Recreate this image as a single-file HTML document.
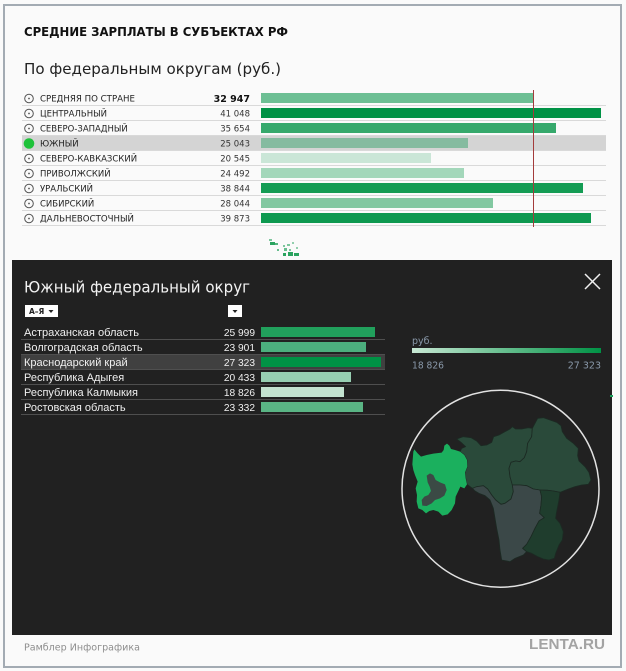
<!DOCTYPE html>
<html><head><meta charset="utf-8"><style>
html,body{margin:0;padding:0;background:#fafafa;}
svg{display:block;}
.dj{font-family:"DejaVu Sans","Liberation Sans",sans-serif;}
.lb{font-family:"Liberation Sans","DejaVu Sans",sans-serif;}
</style></head><body>
<svg width="626" height="671" viewBox="0 0 626 671" xmlns="http://www.w3.org/2000/svg">
<rect x="0" y="0" width="626" height="671" fill="#fafafa"/>
<rect x="4" y="5" width="617" height="662" fill="none" stroke="#a3abb3" stroke-width="2"/>

<text class="dj" x="24" y="36" font-size="12" font-weight="bold" fill="#111" textLength="264" lengthAdjust="spacingAndGlyphs">СРЕДНИЕ ЗАРПЛАТЫ В СУБЪЕКТАХ РФ</text>
<text class="dj" x="24" y="74" font-size="15" fill="#222" textLength="257" lengthAdjust="spacingAndGlyphs">По федеральным округам (руб.)</text>

<!-- highlight row -->
<rect x="22" y="136" width="584" height="14" fill="#d4d4d4"/>
<!-- separators -->
<g fill="#d9d9d9">
<rect x="22" y="105" width="584" height="1"/>
<rect x="22" y="120" width="584" height="1"/>
<rect x="22" y="135" width="584" height="1"/>
<rect x="22" y="150" width="584" height="1"/>
<rect x="22" y="165" width="584" height="1"/>
<rect x="22" y="180" width="584" height="1"/>
<rect x="22" y="195" width="584" height="1"/>
<rect x="22" y="210" width="584" height="1"/>
<rect x="22" y="225" width="584" height="1"/>
</g>
<!-- bars -->
<rect x="261" y="93" width="272" height="10" fill="#6dbf94"/>
<rect x="261" y="108" width="340" height="10" fill="#009245"/>
<rect x="261" y="123" width="295" height="10" fill="#36a96c"/>
<rect x="261" y="138" width="207" height="10" fill="#85bba0"/>
<rect x="261" y="153" width="170" height="10" fill="#cae6d7"/>
<rect x="261" y="168" width="203" height="10" fill="#a3d7ba"/>
<rect x="261" y="183" width="322" height="10" fill="#149c54"/>
<rect x="261" y="198" width="232" height="10" fill="#82c8a1"/>
<rect x="261" y="213" width="330" height="10" fill="#0e9950"/>
<rect x="533" y="90" width="1" height="137" fill="#a33b3b"/>

<!-- icons -->
<g fill="none" stroke="#555" stroke-width="1">
<circle cx="29" cy="98.5" r="4.3"/>
<circle cx="29" cy="113.5" r="4.3"/>
<circle cx="29" cy="128.5" r="4.3"/>
<circle cx="29" cy="158.5" r="4.3"/>
<circle cx="29" cy="173.5" r="4.3"/>
<circle cx="29" cy="188.5" r="4.3"/>
<circle cx="29" cy="203.5" r="4.3"/>
<circle cx="29" cy="218.5" r="4.3"/>
</g>
<g fill="#555">
<circle cx="29" cy="98.5" r="0.9"/>
<circle cx="29" cy="113.5" r="0.9"/>
<circle cx="29" cy="128.5" r="0.9"/>
<circle cx="29" cy="158.5" r="0.9"/>
<circle cx="29" cy="173.5" r="0.9"/>
<circle cx="29" cy="188.5" r="0.9"/>
<circle cx="29" cy="203.5" r="0.9"/>
<circle cx="29" cy="218.5" r="0.9"/>
</g>
<circle cx="29" cy="143.5" r="5.3" fill="#1ec23a"/>

<g class="dj" font-size="8.5" fill="#222">
<text x="40" y="101.5" textLength="95" lengthAdjust="spacingAndGlyphs">СРЕДНЯЯ ПО СТРАНЕ</text>
<text x="40" y="116.5">ЦЕНТРАЛЬНЫЙ</text>
<text x="40" y="131.5">СЕВЕРО-ЗАПАДНЫЙ</text>
<text x="40" y="146.5">ЮЖНЫЙ</text>
<text x="40" y="161.5">СЕВЕРО-КАВКАЗСКИЙ</text>
<text x="40" y="176.5">ПРИВОЛЖСКИЙ</text>
<text x="40" y="191.5">УРАЛЬСКИЙ</text>
<text x="40" y="206.5">СИБИРСКИЙ</text>
<text x="40" y="221.5" textLength="94" lengthAdjust="spacingAndGlyphs">ДАЛЬНЕВОСТОЧНЫЙ</text>
</g>
<text class="dj" x="250" y="102" font-size="9.5" font-weight="bold" fill="#111" text-anchor="end">32 947</text>
<g class="dj" font-size="8.5" fill="#333" text-anchor="end">
<text x="250" y="116.5">41 048</text>
<text x="250" y="131.5">35 654</text>
<text x="250" y="146.5">25 043</text>
<text x="250" y="161.5">20 545</text>
<text x="250" y="176.5">24 492</text>
<text x="250" y="191.5">38 844</text>
<text x="250" y="206.5">28 044</text>
<text x="250" y="221.5">39 873</text>
</g>

<!-- small map blip -->
<g fill="#2aa35f">
<rect x="269" y="239" width="3" height="2" opacity="0.6"/>
<rect x="270" y="242" width="5" height="3"/>
<rect x="275" y="243" width="3" height="2" opacity="0.8"/>
<rect x="277" y="249" width="2" height="2" opacity="0.7"/>
<rect x="283" y="245" width="2" height="2" opacity="0.6"/>
<rect x="287" y="244" width="3" height="2" opacity="0.6"/>
<rect x="292" y="242" width="2" height="2" opacity="0.5"/>
<rect x="284" y="248" width="3" height="3" opacity="0.7"/>
<rect x="289" y="249" width="2" height="2" opacity="0.6"/>
<rect x="283" y="253" width="3" height="3"/>
<rect x="288" y="252" width="5" height="4"/>
<rect x="294" y="253" width="5" height="3"/>
<rect x="296" y="247" width="2" height="2" opacity="0.5"/>
</g>

<!-- dark panel -->
<rect x="12" y="260" width="600" height="375" fill="#212121"/>
<rect x="610" y="395" width="3" height="2" fill="#1aa05a"/>
<text class="dj" x="24" y="292.3" font-size="16" fill="#f2f2f2" textLength="226" lengthAdjust="spacingAndGlyphs">Южный федеральный округ</text>
<g stroke="#f0f0f0" stroke-width="1.5">
<line x1="585" y1="274" x2="600" y2="289"/>
<line x1="600" y1="274" x2="585" y2="289"/>
</g>
<!-- dropdowns -->
<rect x="25" y="305" width="33" height="12" fill="#fff"/>
<text class="dj" x="29" y="314" font-size="7.5" font-weight="bold" fill="#222">А–Я</text>
<polygon points="48.5,310 53.5,310 51,313" fill="#222"/>
<rect x="228" y="305" width="14" height="12" fill="#fff"/>
<polygon points="232.5,310 237.5,310 235,313" fill="#222"/>

<!-- dark rows -->
<rect x="21" y="355" width="364" height="14" fill="#404040"/>
<g fill="#4f4f4f">
<rect x="21" y="339" width="364" height="1"/>
<rect x="21" y="354" width="364" height="1"/>
<rect x="21" y="369" width="364" height="1"/>
<rect x="21" y="384" width="364" height="1"/>
<rect x="21" y="399" width="364" height="1"/>
<rect x="21" y="414" width="364" height="1"/>
</g>
<rect x="261" y="327" width="114" height="10" fill="#21a05c"/>
<rect x="261" y="342" width="105" height="10" fill="#4caf7e"/>
<rect x="261" y="357" width="120" height="10" fill="#009245"/>
<rect x="261" y="372" width="90" height="10" fill="#97cfb2"/>
<rect x="261" y="387" width="83" height="10" fill="#c3e3d0"/>
<rect x="261" y="402" width="102" height="10" fill="#5ab585"/>
<g class="lb" font-size="11" fill="#f0f0f0">
<text x="24" y="336" textLength="115" lengthAdjust="spacingAndGlyphs">Астраханская область</text>
<text x="24" y="351">Волгоградская область</text>
<text x="24" y="366">Краснодарский край</text>
<text x="24" y="381">Республика Адыгея</text>
<text x="24" y="396">Республика Калмыкия</text>
<text x="24" y="411">Ростовская область</text>
</g>
<g class="lb" font-size="10.2" fill="#f0f0f0" text-anchor="end">
<text x="255" y="336">25 999</text>
<text x="255" y="351">23 901</text>
<text x="255" y="366">27 323</text>
<text x="255" y="381">20 433</text>
<text x="255" y="396">18 826</text>
<text x="255" y="411">23 332</text>
</g>

<!-- legend -->
<defs>
<linearGradient id="lg" x1="0" y1="0" x2="1" y2="0">
<stop offset="0" stop-color="#c8e8d4"/>
<stop offset="1" stop-color="#009245"/>
</linearGradient>
</defs>
<text class="dj" x="412" y="344" font-size="9.5" fill="#8a99aa">руб.</text>
<rect x="412" y="348" width="189" height="5" fill="url(#lg)"/>
<text class="dj" x="412" y="368.5" font-size="9.5" fill="#8a99aa" textLength="32" lengthAdjust="spacingAndGlyphs">18 826</text>
<text class="dj" x="601" y="368.5" font-size="9.5" fill="#8a99aa" text-anchor="end">27 323</text>

<!-- map -->
<circle cx="500.5" cy="488.7" r="98.5" fill="none" stroke="#e2e2e2" stroke-width="1.5"/>
<g transform="translate(395 385) scale(0.33333)" stroke="#1c2a23" stroke-width="2.5" stroke-linejoin="round">
<path fill="#2a4a3a" d="M185,162 L205,155 L228,158 L245,168 L258,182 L275,180 L290,172 L296,155 L312,150 L330,140 L345,132 L352,125 L362,132 L380,132 L400,128 L412,130 L410,155 L398,175 L395,200 L388,218 L375,230 L362,228 L348,232 L342,250 L345,275 L352,298 L355,320 L348,342 L330,355 L318,358 L302,345 L290,330 L278,312 L265,302 L245,308 L232,310 L216,298 L212,280 L210,262 L217,245 L216,225 L208,210 L195,200 L200,190 L212,185 L198,172 Z"/>
<path fill="#2a4a3a" d="M342,250 L348,232 L362,228 L375,230 L388,218 L395,200 L398,175 L410,155 L412,130 L428,100 L445,98 L465,105 L485,112 L498,122 L502,140 L515,160 L535,175 L550,190 L548,212 L552,228 L570,245 L582,262 L588,285 L580,298 L560,300 L540,305 L520,312 L495,322 L475,318 L458,316 L435,315 L415,312 L395,302 L375,300 L352,300 L345,275 Z"/>
<path fill="#3b4848" d="M232,310 L245,305 L265,302 L278,312 L290,330 L302,345 L318,358 L330,355 L348,342 L355,320 L352,300 L375,300 L395,302 L415,312 L435,315 L440,335 L438,360 L434,385 L448,398 L432,408 L420,430 L408,455 L395,478 L383,490 L395,500 L385,510 L360,520 L345,530 L320,525 L315,495 L312,465 L305,430 L300,400 L295,370 L285,345 L270,332 L252,325 L240,318 Z"/>
<path fill="#1f3d2d" d="M435,315 L458,316 L475,318 L495,322 L492,345 L488,365 L484,385 L482,400 L495,415 L505,440 L502,465 L492,480 L482,505 L478,520 L462,525 L445,522 L428,515 L410,505 L395,500 L383,490 L395,478 L408,455 L420,430 L432,408 L448,398 L434,385 L438,360 L440,335 Z"/>
<path fill="#1bb05e" stroke="none" d="M52,238 L55,200 L58,193 L68,205 L78,215 L95,210 L115,206 L140,203 L146,195 L148,182 L156,176 L163,182 L168,192 L180,195 L195,200 L208,210 L216,225 L217,245 L210,262 L212,280 L216,298 L208,310 L196,305 L190,318 L182,335 L180,355 L170,375 L158,388 L142,392 L130,380 L115,375 L103,378 L93,385 L82,375 L70,370 L65,350 L66,330 L62,310 L68,290 L60,270 L55,255 Z"/>
<path fill="#3b4a45" stroke="none" d="M95,272 L105,265 L115,270 L122,285 L135,292 L150,298 L155,315 L148,332 L135,340 L120,345 L110,355 L95,363 L82,362 L80,345 L88,335 L100,330 L108,318 L104,305 L98,292 Z"/>
</g>

<!-- footer -->
<text class="dj" x="24" y="650.7" font-size="10" fill="#8e8e8e" textLength="116" lengthAdjust="spacingAndGlyphs">Рамблер Инфографика</text>
<text class="lb" x="529" y="649" font-size="15" font-weight="bold" fill="#a3a3a3" textLength="76" lengthAdjust="spacingAndGlyphs">LENTA.RU</text>
</svg>
</body></html>
